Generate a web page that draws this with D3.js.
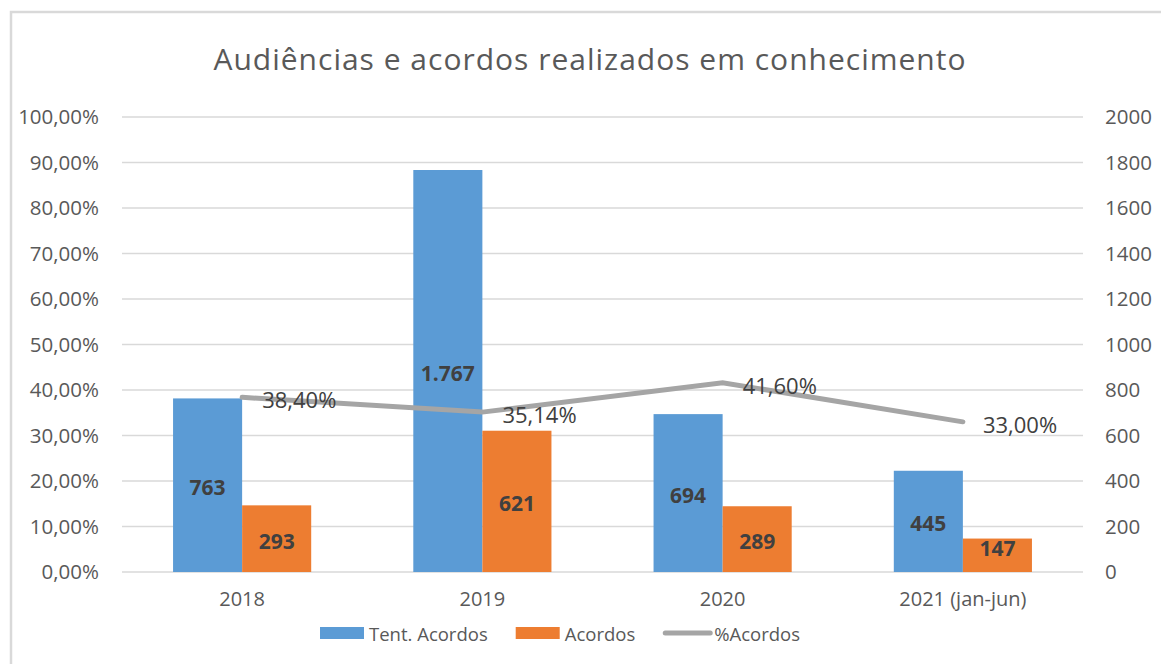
<!DOCTYPE html>
<html lang="pt">
<head>
<meta charset="UTF-8">
<title>Audiências e acordos realizados em conhecimento</title>
<script src="https://cdn.jsdelivr.net/npm/d3@7"></script>
<style>
  html, body { margin: 0; padding: 0; background: #fff; }
  svg { display: block; font-family: "Open Sans", sans-serif; }
</style>
</head>
<body>
<div id="chart"></div>
<script>
// data
const categories = ["2018", "2019", "2020", "2021 (jan-jun)"];
const tentativas = [763, 1767, 694, 445];
const acordos = [293, 621, 289, 147];
const pctAcordos = [0.384, 0.3514, 0.416, 0.33];
const seriesNames = ["Tent. Acordos", "Acordos", "%Acordos"];
const leftTicks = d3.range(0, 1.0001, 0.1);
const rightTicks = d3.range(0, 2001, 200);

const W = 1161, H = 664;
const margin = {left: 122, right: 78, top: 117, bottom: 92};
const colors = {blue: "#5B9BD5", orange: "#ED7D31", gray: "#A5A5A5", grid: "#D9D9D9", text: "#595959", label: "#404040"};

const svg = d3.select("#chart").append("svg")
    .attr("width", W)
    .attr("height", H);

// chart border
svg.append("rect")
    .attr("x", 11).attr("y", 12)
    .attr("width", W + 20).attr("height", H + 20)
    .attr("fill", "none")
    .attr("stroke", colors.grid)
    .attr("stroke-width", 2.5);

// title
svg.append("text")
    .attr("x", 590).attr("y", 58)
    .attr("text-anchor", "middle")
    .attr("dominant-baseline", "central")
    .attr("font-size", "30px")
    .attr("letter-spacing", "1px")
    .attr("fill", colors.text)
    .text("Audiências e acordos realizados em conhecimento");

const x0 = d3.scaleBand()
    .domain(categories)
    .range([margin.left, W - margin.right])
    .paddingInner(0.425)
    .paddingOuter(0.2125);

const x1 = d3.scaleBand()
    .domain([0, 1])
    .range([0, x0.bandwidth()]);

const yL = d3.scaleLinear().domain([0, 1]).range([H - margin.bottom, margin.top]);
const yR = d3.scaleLinear().domain([0, 2000]).range([H - margin.bottom, margin.top]);

const pctFmt = v => d3.format(".2f")(v * 100).replace(".", ",") + "%";
const numFmt = v => d3.format(",")(v).replace(/,/g, ".");

// gridlines
svg.append("g")
    .selectAll("line")
    .data(leftTicks)
    .join("line")
    .attr("x1", margin.left).attr("x2", W - margin.right)
    .attr("y1", d => yL(d)).attr("y2", d => yL(d))
    .attr("stroke", colors.grid)
    .attr("stroke-width", 1.5);

// left axis
const axL = svg.append("g")
    .attr("transform", `translate(${margin.left - 23},0)`)
    .call(d3.axisLeft(yL).tickValues(leftTicks).tickFormat(pctFmt).tickSize(0).tickPadding(0));
axL.select(".domain").remove();
axL.selectAll("text").attr("font-size", "20.5px").attr("fill", colors.text).attr("font-family", "Open Sans");

// right axis
const axR = svg.append("g")
    .attr("transform", `translate(${W - margin.right + 22},0)`)
    .call(d3.axisRight(yR).tickValues(rightTicks).tickFormat(d3.format("d")).tickSize(0).tickPadding(0));
axR.select(".domain").remove();
axR.selectAll("text").attr("font-size", "20.5px").attr("fill", colors.text).attr("font-family", "Open Sans");

// x axis labels
const axX = svg.append("g")
    .attr("transform", `translate(0,${H - margin.bottom + 20})`)
    .call(d3.axisBottom(x0).tickSize(0).tickPadding(0));
axX.select(".domain").remove();
axX.selectAll("text").attr("font-size", "20px").attr("fill", colors.text).attr("font-family", "Open Sans");

// bars
const barData = [tentativas, acordos];
const barColors = [colors.blue, colors.orange];
barData.forEach((vals, s) => {
  const g = svg.append("g");
  g.selectAll("rect")
    .data(vals)
    .join("rect")
    .attr("x", (d, i) => x0(categories[i]) + x1(s))
    .attr("y", d => yR(d))
    .attr("width", x1.bandwidth())
    .attr("height", d => yR(0) - yR(d))
    .attr("fill", barColors[s]);
  g.selectAll("text")
    .data(vals)
    .join("text")
    .attr("x", (d, i) => x0(categories[i]) + x1(s) + x1.bandwidth() / 2)
    .attr("y", d => Math.min((yR(d) + yR(0)) / 2 + 2, yR(0) - 24))
    .attr("text-anchor", "middle")
    .attr("dominant-baseline", "central")
    .attr("font-size", "21px")
    .attr("font-weight", "bold")
    .attr("fill", colors.label)
    .text(d => numFmt(d));
});

// percentage line
const cx = i => x0(categories[i]) + x0.bandwidth() / 2;
svg.append("path")
    .datum(pctAcordos)
    .attr("d", d3.line().x((d, i) => cx(i)).y(d => yL(d)))
    .attr("fill", "none")
    .attr("stroke", colors.gray)
    .attr("stroke-width", 5)
    .attr("stroke-linecap", "round");

svg.append("g")
    .selectAll("text")
    .data(pctAcordos)
    .join("text")
    .attr("x", (d, i) => cx(i) + 20)
    .attr("y", d => yL(d) + 2)
    .attr("dominant-baseline", "central")
    .attr("font-size", "22px")
    .attr("fill", colors.label)
    .text(d => pctFmt(d));

// legend
const legend = svg.append("g").attr("transform", "translate(320,633)");
let lx = 0;
seriesNames.forEach((name, i) => {
  const item = legend.append("g").attr("transform", `translate(${lx},0)`);
  if (i < 2) {
    item.append("rect")
      .attr("x", 0).attr("y", -6)
      .attr("width", 44).attr("height", 12)
      .attr("fill", barColors[i]);
  } else {
    item.append("line")
      .attr("x1", 2).attr("x2", 47)
      .attr("y1", 0).attr("y2", 0)
      .attr("stroke", colors.gray)
      .attr("stroke-width", 5)
      .attr("stroke-linecap", "round");
  }
  const t = item.append("text")
    .attr("x", i < 2 ? 49 : 51)
    .attr("y", 0)
    .attr("dominant-baseline", "central")
    .attr("font-size", "18.5px")
    .attr("fill", colors.text)
    .text(name);
  lx += (i < 2 ? 49 : 51) + t.node().getComputedTextLength() + 28;
});
</script>
</body>
</html>
